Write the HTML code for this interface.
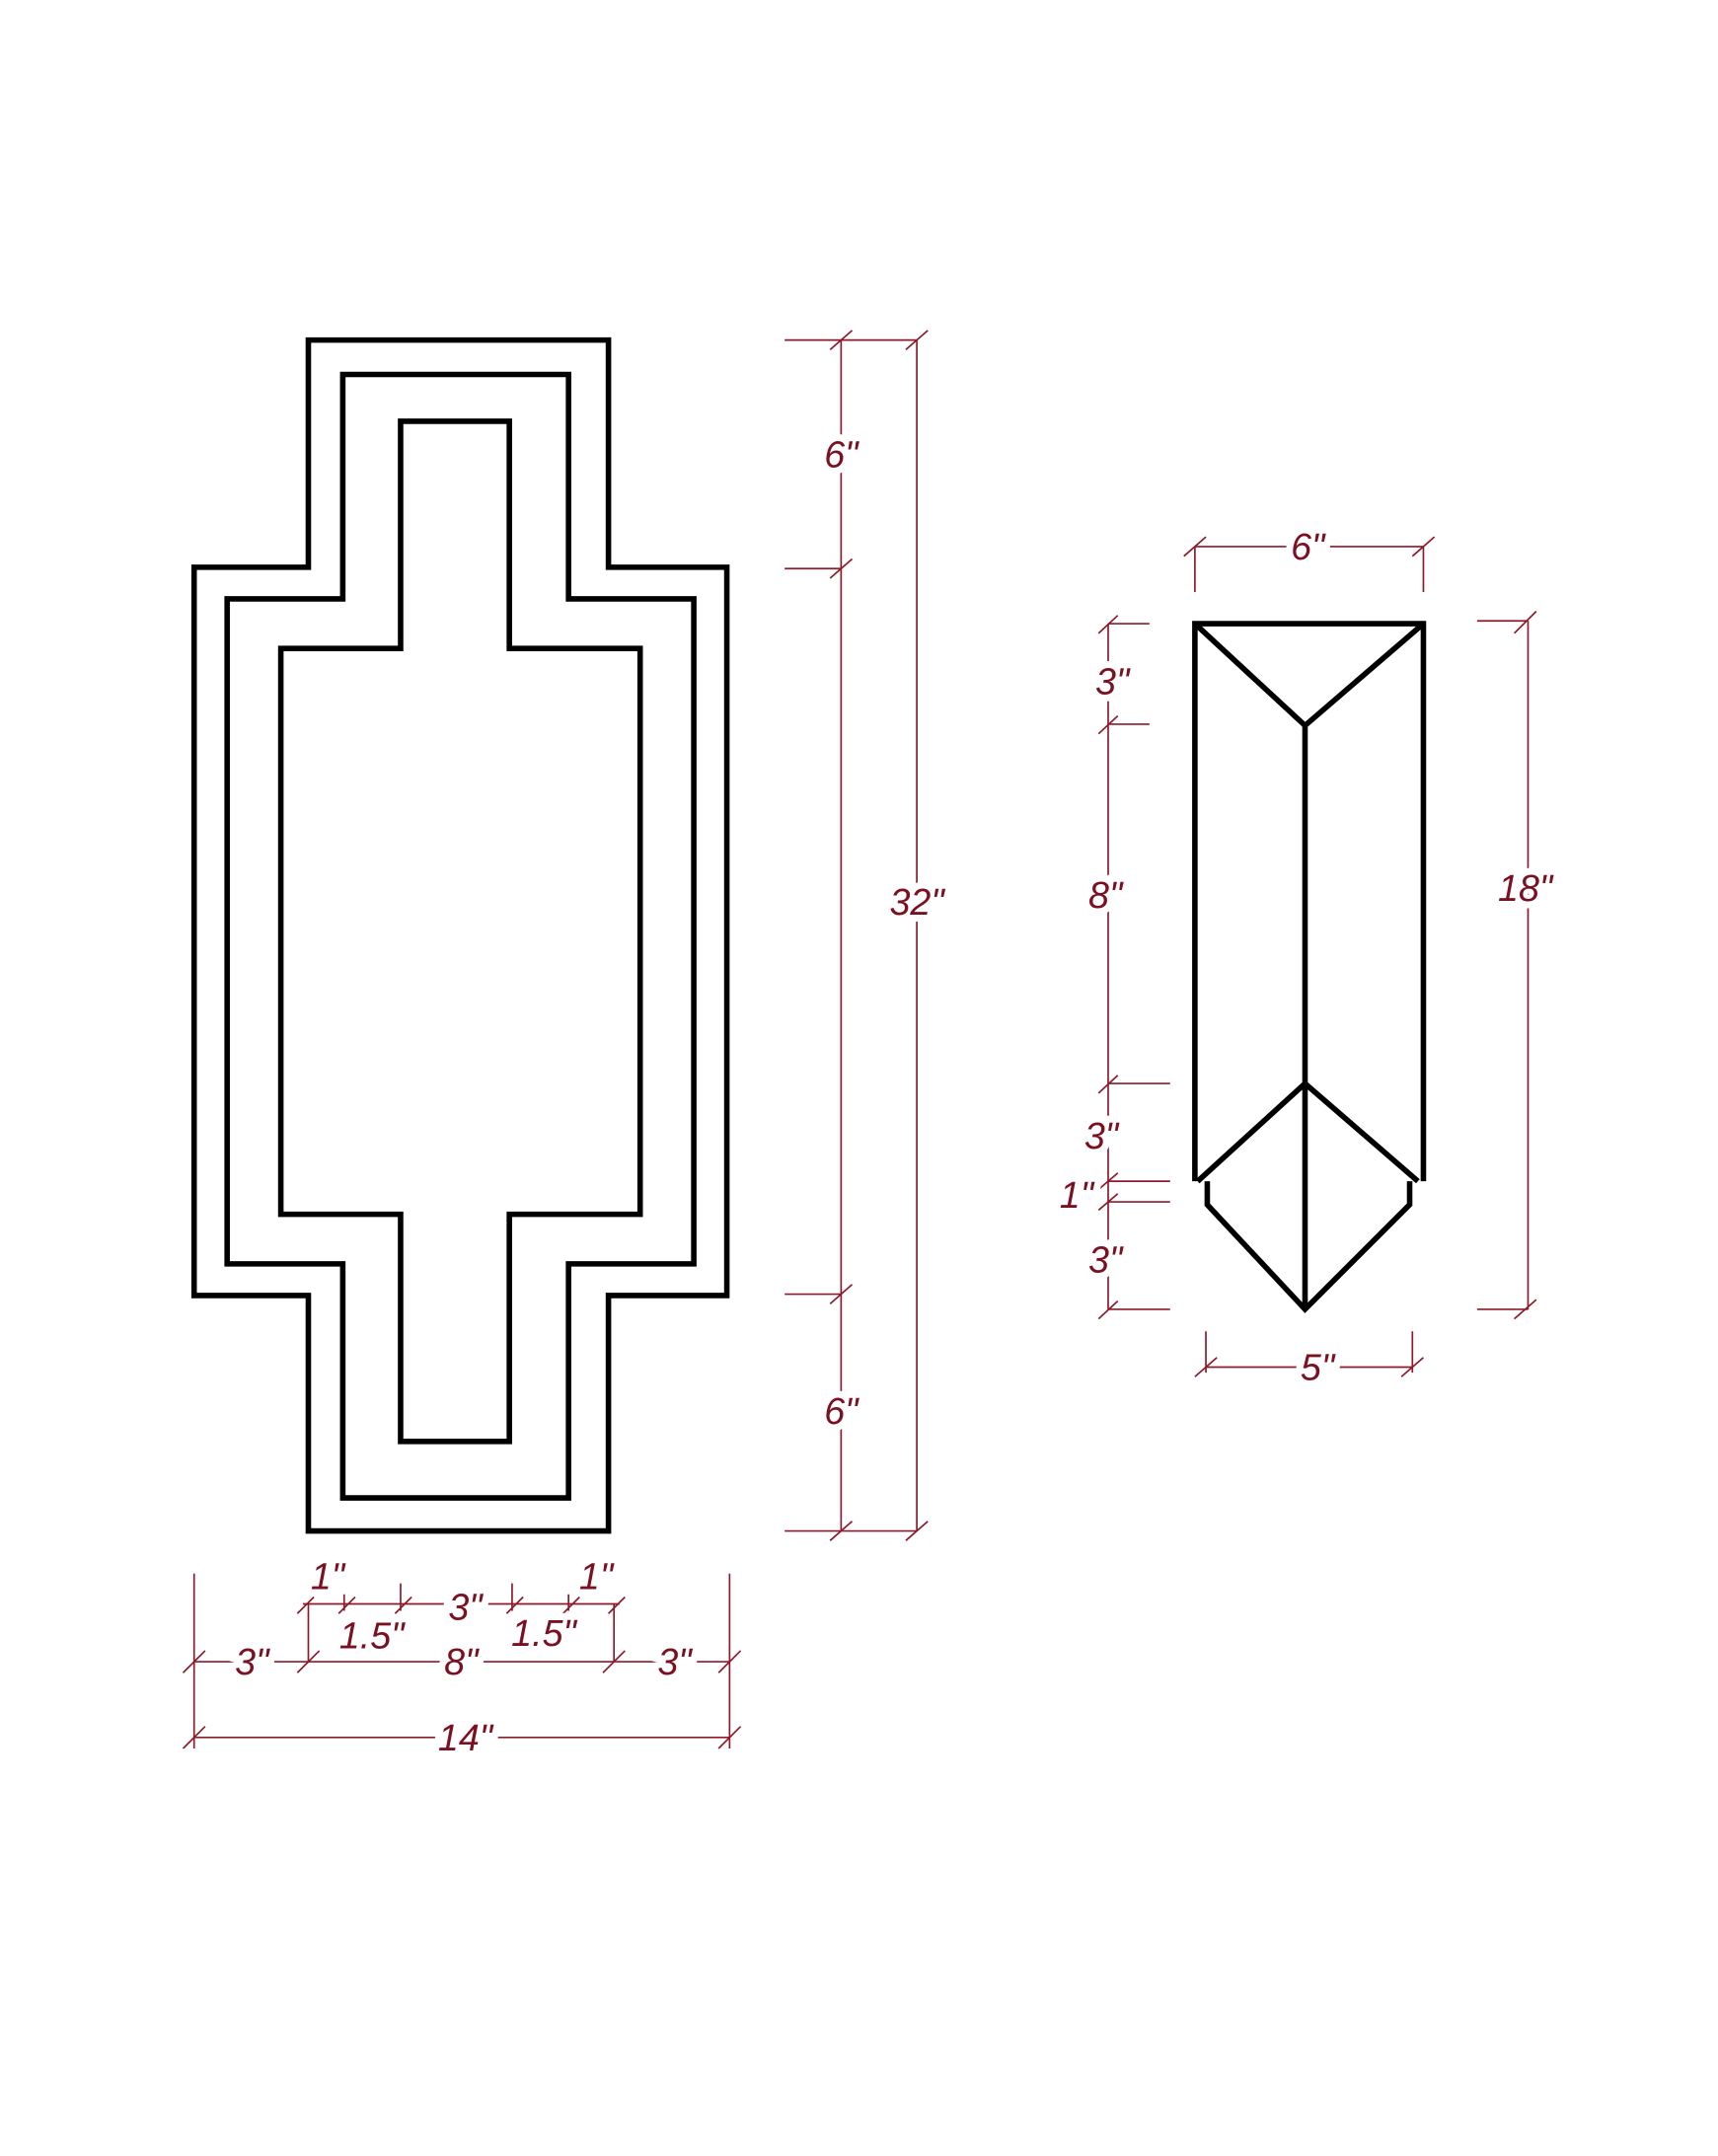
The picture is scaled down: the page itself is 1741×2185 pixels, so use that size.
<!DOCTYPE html>
<html><head><style>html,body{margin:0;padding:0;background:#fff}svg{display:block}</style></head>
<body>
<svg width="1741" height="2185" viewBox="0 0 1248 1566" preserveAspectRatio="none" xmlns="http://www.w3.org/2000/svg">
<rect width="1248" height="1566" fill="#fff"/>
<g fill="none" stroke="#000" stroke-width="4" stroke-linejoin="miter">
<path d="M224,247 H442 V412 H528 V941 H442 V1112 H224 V941 H141 V412 H224 Z"/>
<path d="M249,272 H413 V435 H504 V918 H413 V1088 H249 V918 H165 V435 H249 Z"/>
<path d="M291,306 H370 V471 H465 V882 H370 V1047 H291 V882 H204 V471 H291 Z"/>
<path d="M868,858 V453 H1034 V858"/>
<path d="M868,453 L948,527 L1034,453 M948,527 V951 M870,858 L948,787 L1030,858 M877,858 V875 L948,951 L1024,875 V858"/>
</g>
<g stroke="#8b1a2a" stroke-width="1.2" fill="none">
<path d="M611,247 V1112 M666,247 V1112 M570,247 H666 M570,413 H611 M570,940 H611 M570,1112 H666"/>
<path d="M603,254 L619,240 M658,254 L674,240 M603,420 L619,406 M603,947 L619,933 M603,1119 L619,1105 M658,1119 L674,1105"/>
<path d="M141,1143 V1270 M530,1143 V1270 M141,1262 H530 M141,1207 H530 M220,1165 H450 M224,1165 V1207 M446,1165 V1207 M250,1158 V1170 M291,1150 V1170 M372,1150 V1170 M413,1158 V1170"/>
<path d="M133,1270 L149,1254 M522,1270 L538,1254 M133,1215 L149,1199 M216,1215 L232,1199 M438,1215 L454,1199 M522,1215 L538,1199 M216,1172 L228,1160 M246,1172 L258,1160 M287,1172 L299,1160 M368,1172 L380,1160 M409,1172 L421,1160 M442,1172 L454,1160"/>
<path d="M868,397 H1034 M868,397 V430 M1034,397 V430 M860,404 L876,390 M1026,404 L1042,390"/>
<path d="M805,453 V951 M805,453 H835 M805,526 H835 M805,787 H850 M805,858 H850 M805,873 H850 M805,951 H850"/>
<path d="M798,460 L812,447 M798,533 L812,520 M798,794 L812,781 M798,864 L812,852 M798,879 L812,867 M798,958 L812,945"/>
<path d="M1110,451 V951 M1073,451 H1110 M1073,951 H1110 M1100,460 L1116,444 M1100,958 L1116,944"/>
<path d="M876,993 H1026 M876,967 V997 M1026,967 V997 M868,1000 L884,986 M1018,1000 L1034,986"/>
</g>
<g fill="#7a1020" stroke="#fff" stroke-width="10" paint-order="stroke" font-family="Liberation Sans, sans-serif" font-style="italic" font-size="27" text-anchor="middle" dominant-baseline="central">
<text x="611" y="330">6"</text>
<text x="666" y="655">32"</text>
<text x="611" y="1025">6"</text>
<text x="338" y="1262">14"</text>
<text x="183" y="1207">3"</text>
<text x="335" y="1207">8"</text>
<text x="490" y="1207">3"</text>
<text x="238" y="1145">1"</text>
<text x="338" y="1167">3"</text>
<text x="433" y="1145">1"</text>
<text x="270" y="1188">1.5"</text>
<text x="395" y="1186">1.5"</text>
<text x="950" y="397">6"</text>
<text x="808" y="495">3"</text>
<text x="803" y="650">8"</text>
<text x="800" y="825">3"</text>
<text x="782" y="868">1"</text>
<text x="803" y="915">3"</text>
<text x="1108" y="645">18"</text>
<text x="957" y="993">5"</text>
</g>
</svg>
</body></html>
